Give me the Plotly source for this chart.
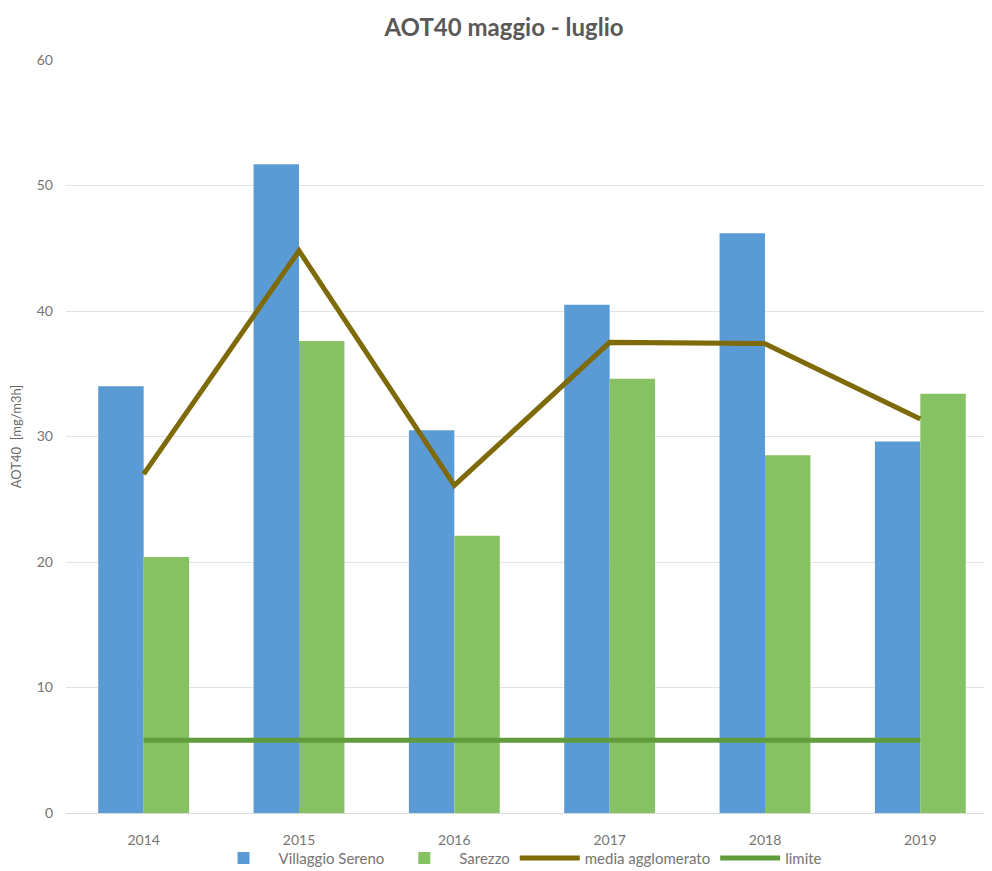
import plotly.graph_objects as go

years = ['2014', '2015', '2016', '2017', '2018', '2019']
villaggio_sereno = [34.0, 51.7, 30.5, 40.5, 46.2, 29.6]
sarezzo = [20.4, 37.6, 22.1, 34.6, 28.5, 33.4]
media_agglomerato = [27.0, 44.8, 26.1, 37.5, 37.4, 31.4]
limite = [5.8, 5.8, 5.8, 5.8, 5.8, 5.8]
y_ticks = [0, 10, 20, 30, 40, 50, 60]

fig = go.Figure()

fig.add_trace(go.Bar(x=years, y=villaggio_sereno, name='Villaggio Sereno',
                     marker=dict(color='#5b9bd5', line=dict(width=0))))
fig.add_trace(go.Bar(x=years, y=sarezzo, name='Sarezzo',
                     marker=dict(color='#86c164', line=dict(width=0))))
fig.add_trace(go.Scatter(x=years, y=media_agglomerato, name='media agglomerato',
                         mode='lines', line=dict(color='#7f6a0a', width=5)))
fig.add_trace(go.Scatter(x=years, y=limite, name='limite',
                         mode='lines', line=dict(color='#609c3c', width=5)))

# the page body adds an 8px margin, so margins are shifted by that amount
fig.update_layout(
    width=992, height=871,
    paper_bgcolor='white', plot_bgcolor='white',
    font=dict(family='Lato, sans-serif', color='#757575', size=14),
    title=dict(text='<b>AOT40 maggio - luglio</b>', x=0.5, xanchor='center',
               y=0.977, yanchor='middle',
               font=dict(size=24, color='#595959', family='Lato, sans-serif')),
    margin=dict(l=58, r=2, t=52, b=66, autoexpand=False),
    barmode='group', bargap=0.415, bargroupgap=0,
    showlegend=True,
    legend=dict(orientation='h', x=0.485, xanchor='center', y=-0.06, yanchor='middle',
                font=dict(size=15, color='#757575'), traceorder='normal',
                itemwidth=60, bgcolor='rgba(0,0,0,0)'),
    xaxis=dict(showgrid=False, showline=True, linecolor='#d9d9d9', ticks='',
               range=[-0.5, 5.5], tickfont=dict(size=14), ticklabelstandoff=14),
    yaxis=dict(range=[0, 60], tickvals=y_ticks, showgrid=True, gridcolor='#e3e3e3',
               zeroline=False, ticks='', tickfont=dict(size=14), ticklabelstandoff=12,
               title=dict(text='AOT40  [mg/m3h]', font=dict(size=13, color='#6b6b6b'),
                          standoff=14)),
)

fig.write_html("out.html")
